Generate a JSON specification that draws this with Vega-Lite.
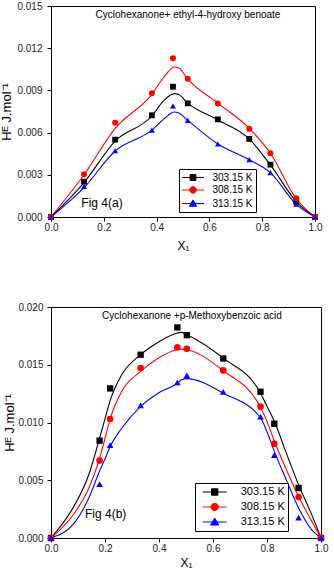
{
  "$schema": "https://vega.github.io/schema/vega-lite/v6.json",
  "padding": {"left": 0, "top": 0, "right": 0, "bottom": 0},
  "spacing": 49,
  "align": "none",
  "resolve": {"scale": {"color": "independent"}, "legend": {"color": "independent"}},
  "config": {
    "font": "Liberation Sans",
    "view": {"stroke": "#000", "strokeWidth": 1},
    "axis": {"domainColor": "#000", "tickColor": "#000", "labelColor": "#222", "titleColor": "#000", "grid": false, "labelFont": "Liberation Sans", "titleFont": "Liberation Sans", "titleFontWeight": "normal", "labelFontSize": 10, "labelOverlap": false, "labelFlush": false},
    "title": {"font": "Liberation Sans", "fontWeight": "normal", "color": "#000"}
  },
  "datasets": {
    "pts_a": [
      {"x": 0, "h": 0, "T": "303.15 K"}, {"x": 0.125, "h": 0.00251, "T": "303.15 K"}, {"x": 0.243, "h": 0.0055, "T": "303.15 K"}, {"x": 0.382, "h": 0.00723, "T": "303.15 K"}, {"x": 0.462, "h": 0.00926, "T": "303.15 K"}, {"x": 0.518, "h": 0.00808, "T": "303.15 K"}, {"x": 0.632, "h": 0.00694, "T": "303.15 K"}, {"x": 0.751, "h": 0.00555, "T": "303.15 K"}, {"x": 0.831, "h": 0.00372, "T": "303.15 K"}, {"x": 0.929, "h": 0.00109, "T": "303.15 K"}, {"x": 1, "h": 0, "T": "303.15 K"},
      {"x": 0, "h": 0, "T": "308.15 K"}, {"x": 0.125, "h": 0.00304, "T": "308.15 K"}, {"x": 0.243, "h": 0.0067, "T": "308.15 K"}, {"x": 0.382, "h": 0.00879, "T": "308.15 K"}, {"x": 0.462, "h": 0.01128, "T": "308.15 K"}, {"x": 0.518, "h": 0.00983, "T": "308.15 K"}, {"x": 0.632, "h": 0.00806, "T": "308.15 K"}, {"x": 0.751, "h": 0.00628, "T": "308.15 K"}, {"x": 0.831, "h": 0.00453, "T": "308.15 K"}, {"x": 0.929, "h": 0.00133, "T": "308.15 K"}, {"x": 1, "h": 0, "T": "308.15 K"},
      {"x": 0, "h": 0, "T": "313.15 K"}, {"x": 0.125, "h": 0.00218, "T": "313.15 K"}, {"x": 0.243, "h": 0.00471, "T": "313.15 K"}, {"x": 0.382, "h": 0.00618, "T": "313.15 K"}, {"x": 0.462, "h": 0.00789, "T": "313.15 K"}, {"x": 0.518, "h": 0.00687, "T": "313.15 K"}, {"x": 0.632, "h": 0.00519, "T": "313.15 K"}, {"x": 0.751, "h": 0.00408, "T": "313.15 K"}, {"x": 0.831, "h": 0.00315, "T": "313.15 K"}, {"x": 0.929, "h": 0.00092, "T": "313.15 K"}, {"x": 1, "h": 0, "T": "313.15 K"}
    ],
    "fit_a": [
      {"x": 0, "h": 0, "T": "303.15 K"}, {"x": 0.125, "h": 0.00244, "T": "303.15 K"}, {"x": 0.243, "h": 0.0054, "T": "303.15 K"}, {"x": 0.382, "h": 0.00718, "T": "303.15 K"}, {"x": 0.426, "h": 0.00825, "T": "303.15 K"}, {"x": 0.467, "h": 0.00877, "T": "303.15 K"}, {"x": 0.484, "h": 0.0087, "T": "303.15 K"}, {"x": 0.518, "h": 0.0081, "T": "303.15 K"}, {"x": 0.632, "h": 0.0069, "T": "303.15 K"}, {"x": 0.751, "h": 0.00555, "T": "303.15 K"}, {"x": 0.831, "h": 0.0037, "T": "303.15 K"}, {"x": 0.929, "h": 0.0011, "T": "303.15 K"}, {"x": 1, "h": 0, "T": "303.15 K"},
      {"x": 0, "h": 0, "T": "308.15 K"}, {"x": 0.125, "h": 0.003, "T": "308.15 K"}, {"x": 0.243, "h": 0.0063, "T": "308.15 K"}, {"x": 0.382, "h": 0.00872, "T": "308.15 K"}, {"x": 0.426, "h": 0.0099, "T": "308.15 K"}, {"x": 0.467, "h": 0.01066, "T": "308.15 K"}, {"x": 0.484, "h": 0.0106, "T": "308.15 K"}, {"x": 0.518, "h": 0.0098, "T": "308.15 K"}, {"x": 0.632, "h": 0.0081, "T": "308.15 K"}, {"x": 0.751, "h": 0.0063, "T": "308.15 K"}, {"x": 0.831, "h": 0.00453, "T": "308.15 K"}, {"x": 0.929, "h": 0.0013, "T": "308.15 K"}, {"x": 1, "h": 0, "T": "308.15 K"},
      {"x": 0, "h": 0, "T": "313.15 K"}, {"x": 0.125, "h": 0.00208, "T": "313.15 K"}, {"x": 0.243, "h": 0.00469, "T": "313.15 K"}, {"x": 0.382, "h": 0.00618, "T": "313.15 K"}, {"x": 0.426, "h": 0.00694, "T": "313.15 K"}, {"x": 0.467, "h": 0.00746, "T": "313.15 K"}, {"x": 0.484, "h": 0.0074, "T": "313.15 K"}, {"x": 0.518, "h": 0.00687, "T": "313.15 K"}, {"x": 0.632, "h": 0.00519, "T": "313.15 K"}, {"x": 0.751, "h": 0.00407, "T": "313.15 K"}, {"x": 0.831, "h": 0.00315, "T": "313.15 K"}, {"x": 0.929, "h": 0.0009, "T": "313.15 K"}, {"x": 1, "h": 0, "T": "313.15 K"}
    ],
    "pts_b": [
      {"x": 0, "h": 0, "T": "303.15 K"}, {"x": 0.18, "h": 0.00843, "T": "303.15 K"}, {"x": 0.219, "h": 0.01295, "T": "303.15 K"}, {"x": 0.332, "h": 0.01587, "T": "303.15 K"}, {"x": 0.468, "h": 0.01823, "T": "303.15 K"}, {"x": 0.503, "h": 0.01756, "T": "303.15 K"}, {"x": 0.638, "h": 0.01554, "T": "303.15 K"}, {"x": 0.776, "h": 0.01266, "T": "303.15 K"}, {"x": 0.827, "h": 0.00989, "T": "303.15 K"}, {"x": 0.917, "h": 0.00433, "T": "303.15 K"}, {"x": 1, "h": 0, "T": "303.15 K"},
      {"x": 0, "h": 0, "T": "308.15 K"}, {"x": 0.18, "h": 0.0067, "T": "308.15 K"}, {"x": 0.219, "h": 0.0103, "T": "308.15 K"}, {"x": 0.332, "h": 0.01471, "T": "308.15 K"}, {"x": 0.468, "h": 0.0165, "T": "308.15 K"}, {"x": 0.503, "h": 0.01638, "T": "308.15 K"}, {"x": 0.638, "h": 0.01451, "T": "308.15 K"}, {"x": 0.776, "h": 0.01137, "T": "308.15 K"}, {"x": 0.827, "h": 0.00816, "T": "308.15 K"}, {"x": 0.917, "h": 0.00355, "T": "308.15 K"}, {"x": 1, "h": 0, "T": "308.15 K"},
      {"x": 0, "h": 0, "T": "313.15 K"}, {"x": 0.18, "h": 0.00467, "T": "313.15 K"}, {"x": 0.219, "h": 0.00805, "T": "313.15 K"}, {"x": 0.332, "h": 0.01148, "T": "313.15 K"}, {"x": 0.468, "h": 0.01347, "T": "313.15 K"}, {"x": 0.503, "h": 0.01407, "T": "313.15 K"}, {"x": 0.638, "h": 0.01266, "T": "313.15 K"}, {"x": 0.776, "h": 0.0105, "T": "313.15 K"}, {"x": 0.827, "h": 0.00718, "T": "313.15 K"}, {"x": 0.917, "h": 0.00176, "T": "313.15 K"}, {"x": 1, "h": 0, "T": "313.15 K"}
    ],
    "fit_b": [
      {"x": 0, "h": 0, "T": "303.15 K"}, {"x": 0.091, "h": 0.003, "T": "303.15 K"}, {"x": 0.14, "h": 0.00548, "T": "303.15 K"}, {"x": 0.18, "h": 0.00865, "T": "303.15 K"}, {"x": 0.201, "h": 0.0104, "T": "303.15 K"}, {"x": 0.219, "h": 0.0119, "T": "303.15 K"}, {"x": 0.262, "h": 0.01413, "T": "303.15 K"}, {"x": 0.332, "h": 0.01587, "T": "303.15 K"}, {"x": 0.397, "h": 0.01695, "T": "303.15 K"}, {"x": 0.468, "h": 0.01775, "T": "303.15 K"}, {"x": 0.483, "h": 0.0178, "T": "303.15 K"}, {"x": 0.503, "h": 0.0176, "T": "303.15 K"}, {"x": 0.638, "h": 0.01557, "T": "303.15 K"}, {"x": 0.776, "h": 0.01254, "T": "303.15 K"}, {"x": 0.8, "h": 0.0114, "T": "303.15 K"}, {"x": 0.827, "h": 0.0101, "T": "303.15 K"}, {"x": 0.874, "h": 0.0072, "T": "303.15 K"}, {"x": 0.917, "h": 0.0046, "T": "303.15 K"}, {"x": 0.966, "h": 0.002, "T": "303.15 K"}, {"x": 1, "h": 0, "T": "303.15 K"},
      {"x": 0, "h": 0, "T": "308.15 K"}, {"x": 0.091, "h": 0.0023, "T": "308.15 K"}, {"x": 0.14, "h": 0.0043, "T": "308.15 K"}, {"x": 0.18, "h": 0.0069, "T": "308.15 K"}, {"x": 0.201, "h": 0.0087, "T": "308.15 K"}, {"x": 0.219, "h": 0.0103, "T": "308.15 K"}, {"x": 0.262, "h": 0.0127, "T": "308.15 K"}, {"x": 0.332, "h": 0.01442, "T": "308.15 K"}, {"x": 0.397, "h": 0.01557, "T": "308.15 K"}, {"x": 0.468, "h": 0.0163, "T": "308.15 K"}, {"x": 0.483, "h": 0.01635, "T": "308.15 K"}, {"x": 0.503, "h": 0.0163, "T": "308.15 K"}, {"x": 0.638, "h": 0.01448, "T": "308.15 K"}, {"x": 0.776, "h": 0.0113, "T": "308.15 K"}, {"x": 0.8, "h": 0.0101, "T": "308.15 K"}, {"x": 0.827, "h": 0.0084, "T": "308.15 K"}, {"x": 0.874, "h": 0.0058, "T": "308.15 K"}, {"x": 0.917, "h": 0.0036, "T": "308.15 K"}, {"x": 0.966, "h": 0.00144, "T": "308.15 K"}, {"x": 1, "h": 0, "T": "308.15 K"},
      {"x": 0, "h": 0, "T": "313.15 K"}, {"x": 0.091, "h": 0.00144, "T": "313.15 K"}, {"x": 0.14, "h": 0.00346, "T": "313.15 K"}, {"x": 0.18, "h": 0.0058, "T": "313.15 K"}, {"x": 0.201, "h": 0.0069, "T": "313.15 K"}, {"x": 0.219, "h": 0.0079, "T": "313.15 K"}, {"x": 0.262, "h": 0.0095, "T": "313.15 K"}, {"x": 0.332, "h": 0.0114, "T": "313.15 K"}, {"x": 0.397, "h": 0.01254, "T": "313.15 K"}, {"x": 0.468, "h": 0.0134, "T": "313.15 K"}, {"x": 0.483, "h": 0.0137, "T": "313.15 K"}, {"x": 0.503, "h": 0.0138, "T": "313.15 K"}, {"x": 0.638, "h": 0.01254, "T": "313.15 K"}, {"x": 0.776, "h": 0.0104, "T": "313.15 K"}, {"x": 0.8, "h": 0.0092, "T": "313.15 K"}, {"x": 0.827, "h": 0.0075, "T": "313.15 K"}, {"x": 0.874, "h": 0.0049, "T": "313.15 K"}, {"x": 0.917, "h": 0.0026, "T": "313.15 K"}, {"x": 0.966, "h": 0.0007, "T": "313.15 K"}, {"x": 1, "h": 0, "T": "313.15 K"}
    ]
  },
  "vconcat": [
    {
      "width": 264,
      "height": 211,
      "title": {"text": "Cyclohexanone+ ethyl-4-hydroxy benoate", "fontSize": 10, "anchor": "middle", "frame": "group", "offset": -19, "dx": 5},
      "layer": [
        {
          "data": {"name": "fit_a"},
          "mark": {"type": "line", "interpolate": "monotone", "strokeWidth": 1.1},
          "encoding": {
            "x": {"field": "x", "type": "quantitative", "scale": {"domain": [0, 1], "nice": false},
              "axis": {"title": "X₁", "titleFontSize": 12, "titlePadding": 8, "labelPadding": 1,
                "values": [0, 0.1, 0.2, 0.3, 0.4, 0.5, 0.6, 0.7, 0.8, 0.9, 1],
                "labelExpr": "round(datum.value*10)%2==0 ? format(datum.value,'.1f') : ''",
                "tickSize": {"condition": {"test": "round(datum.value*10)%2==0", "value": 4}, "value": 2}}},
            "y": {"field": "h", "type": "quantitative", "scale": {"domain": [0, 0.015], "nice": false},
              "axis": {"title": "Hᴱ J.mol⁻¹", "titleFontSize": 13, "titlePadding": 3, "labelPadding": 5,
                "values": [0, 0.0015, 0.003, 0.0045, 0.006, 0.0075, 0.009, 0.0105, 0.012, 0.0135, 0.015],
                "labelExpr": "round(datum.value/0.0015)%2==0 ? format(datum.value,'.3f') : ''",
                "tickSize": {"condition": {"test": "round(datum.value/0.0015)%2==0", "value": 4}, "value": 2}}},
            "color": {"field": "T", "type": "nominal", "scale": {"domain": ["303.15 K", "308.15 K", "313.15 K"], "range": ["#000000", "#ff0000", "#0000ff"]}}
          }
        },
        {
          "data": {"name": "pts_a"},
          "transform": [{"filter": "datum.T === '303.15 K'"}],
          "mark": {"type": "point", "shape": "square", "filled": true, "size": 34, "opacity": 1},
          "encoding": {
            "x": {"field": "x", "type": "quantitative"},
            "y": {"field": "h", "type": "quantitative"},
            "color": {"field": "T", "type": "nominal",
              "legend": {"title": null, "orient": "none", "legendX": 128, "legendY": 163, "padding": 3, "strokeColor": "#000", "fillColor": "#fff",
                "symbolSize": 100, "symbolOffset": 5.5, "labelOffset": 14, "labelFontSize": 10, "labelColor": "#000", "rowPadding": 1.5, "symbolOpacity": 1,
                "encode": {"symbols": {"update": {
                  "shape": {"signal": "datum.value === '303.15 K' ? 'M-2.2,0H2.2M-0.58,-0.58H0.58V0.58H-0.58Z' : datum.value === '308.15 K' ? 'M-2.2,0H2.2M0.66,0A0.66,0.66,0,1,1,-0.66,0A0.66,0.66,0,1,1,0.66,0Z' : 'M-2.2,0H2.2M0,-0.72L0.74,0.56H-0.74Z'"},
                  "stroke": {"signal": "datum.value === '303.15 K' ? '#000000' : datum.value === '308.15 K' ? '#ff0000' : '#0000ff'"},
                  "fill": {"signal": "datum.value === '303.15 K' ? '#000000' : datum.value === '308.15 K' ? '#ff0000' : '#0000ff'"},
                  "strokeWidth": {"value": 1}
                }}}}}
          }
        },
        {
          "data": {"name": "pts_a"},
          "transform": [{"filter": "datum.T === '308.15 K'"}],
          "mark": {"type": "point", "shape": "circle", "filled": true, "size": 36, "opacity": 1},
          "encoding": {
            "x": {"field": "x", "type": "quantitative"},
            "y": {"field": "h", "type": "quantitative"},
            "color": {"field": "T", "type": "nominal"}
          }
        },
        {
          "data": {"name": "pts_a"},
          "transform": [{"filter": "datum.T === '313.15 K'"}],
          "mark": {"type": "point", "shape": "triangle-up", "filled": true, "size": 36, "opacity": 1},
          "encoding": {
            "x": {"field": "x", "type": "quantitative"},
            "y": {"field": "h", "type": "quantitative"},
            "color": {"field": "T", "type": "nominal"}
          }
        },
        {
          "data": {"values": [{"label": "Fig 4(a)"}]},
          "mark": {"type": "text", "align": "left", "baseline": "middle", "fontSize": 12, "color": "#000"},
          "encoding": {"x": {"datum": 0.115}, "y": {"datum": 0.001}, "text": {"field": "label"}}
        }
      ]
    },
    {
      "width": 270,
      "height": 231,
      "title": {"text": "Cyclohexanone +p-Methoxybenzoic acid", "fontSize": 10, "anchor": "middle", "frame": "group", "offset": -19, "dx": 6},
      "layer": [
        {
          "data": {"name": "fit_b"},
          "mark": {"type": "line", "interpolate": "monotone", "strokeWidth": 1.1},
          "encoding": {
            "x": {"field": "x", "type": "quantitative", "scale": {"domain": [0, 1], "nice": false},
              "axis": {"title": "X₁", "titleFontSize": 12, "titlePadding": 4, "labelPadding": 1,
                "values": [0, 0.1, 0.2, 0.3, 0.4, 0.5, 0.6, 0.7, 0.8, 0.9, 1],
                "labelExpr": "round(datum.value*10)%2==0 ? format(datum.value,'.1f') : ''",
                "tickSize": {"condition": {"test": "round(datum.value*10)%2==0", "value": 4}, "value": 2}}},
            "y": {"field": "h", "type": "quantitative", "scale": {"domain": [0, 0.02], "nice": false},
              "axis": {"title": "Hᴱ J.mol⁻¹", "titleFontSize": 13, "titlePadding": 1, "labelPadding": 4,
                "values": [0, 0.0025, 0.005, 0.0075, 0.01, 0.0125, 0.015, 0.0175, 0.02],
                "labelExpr": "round(datum.value/0.0025)%2==0 ? format(datum.value,'.3f') : ''",
                "tickSize": {"condition": {"test": "round(datum.value/0.0025)%2==0", "value": 4}, "value": 2}}},
            "color": {"field": "T", "type": "nominal", "scale": {"domain": ["303.15 K", "308.15 K", "313.15 K"], "range": ["#000000", "#ff0000", "#0000ff"]}}
          }
        },
        {
          "data": {"name": "pts_b"},
          "transform": [{"filter": "datum.T === '303.15 K'"}],
          "mark": {"type": "point", "shape": "square", "filled": true, "size": 40, "opacity": 1},
          "encoding": {
            "x": {"field": "x", "type": "quantitative"},
            "y": {"field": "h", "type": "quantitative"},
            "color": {"field": "T", "type": "nominal",
              "legend": {"title": null, "orient": "none", "legendX": 144, "legendY": 176, "padding": 3, "strokeColor": "#000", "fillColor": "#fff",
                "symbolSize": 121, "symbolOffset": 10.7, "labelOffset": 20, "labelFontSize": 11, "labelColor": "#000", "rowPadding": 3, "symbolOpacity": 1,
                "encode": {"symbols": {"update": {
                  "shape": {"signal": "datum.value === '303.15 K' ? 'M-2.2,0H2.2M-0.58,-0.58H0.58V0.58H-0.58Z' : datum.value === '308.15 K' ? 'M-2.2,0H2.2M0.66,0A0.66,0.66,0,1,1,-0.66,0A0.66,0.66,0,1,1,0.66,0Z' : 'M-2.2,0H2.2M0,-0.72L0.74,0.56H-0.74Z'"},
                  "stroke": {"signal": "datum.value === '303.15 K' ? '#000000' : datum.value === '308.15 K' ? '#ff0000' : '#0000ff'"},
                  "fill": {"signal": "datum.value === '303.15 K' ? '#000000' : datum.value === '308.15 K' ? '#ff0000' : '#0000ff'"},
                  "strokeWidth": {"value": 1}
                }}}}}
          }
        },
        {
          "data": {"name": "pts_b"},
          "transform": [{"filter": "datum.T === '308.15 K'"}],
          "mark": {"type": "point", "shape": "circle", "filled": true, "size": 44, "opacity": 1},
          "encoding": {
            "x": {"field": "x", "type": "quantitative"},
            "y": {"field": "h", "type": "quantitative"},
            "color": {"field": "T", "type": "nominal"}
          }
        },
        {
          "data": {"name": "pts_b"},
          "transform": [{"filter": "datum.T === '313.15 K'"}],
          "mark": {"type": "point", "shape": "triangle-up", "filled": true, "size": 44, "opacity": 1},
          "encoding": {
            "x": {"field": "x", "type": "quantitative"},
            "y": {"field": "h", "type": "quantitative"},
            "color": {"field": "T", "type": "nominal"}
          }
        },
        {
          "data": {"values": [{"label": "Fig 4(b)"}]},
          "mark": {"type": "text", "align": "left", "baseline": "middle", "fontSize": 12, "color": "#000"},
          "encoding": {"x": {"datum": 0.126}, "y": {"datum": 0.0021}, "text": {"field": "label"}}
        }
      ]
    }
  ]
}
